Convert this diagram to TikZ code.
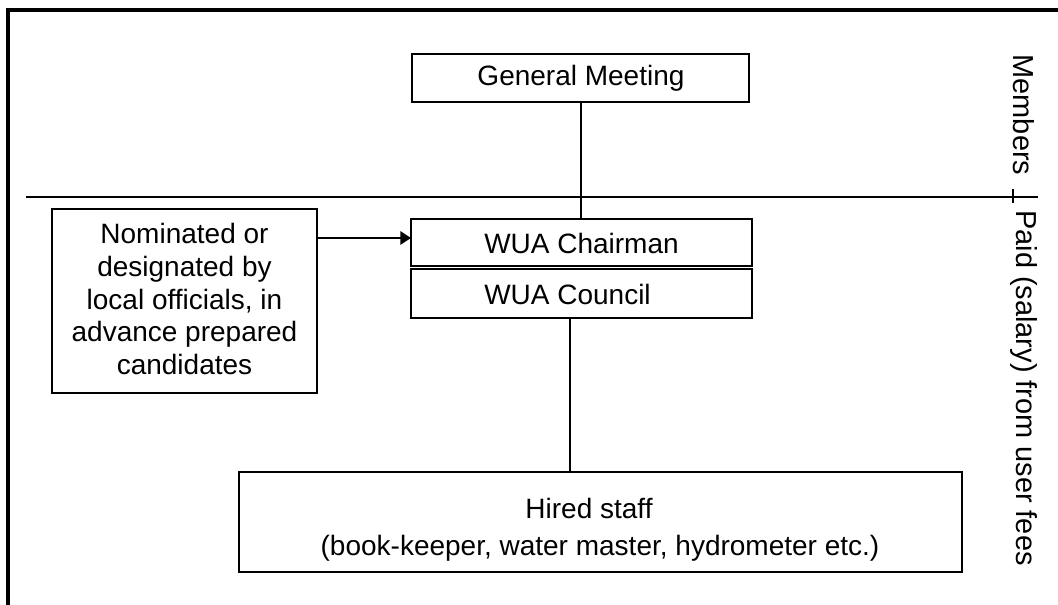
\documentclass[tikz,border=0pt]{standalone}
\usepackage{fontspec}
\setmainfont{Liberation Sans}
\usetikzlibrary{arrows.meta}
\begin{document}
\begin{tikzpicture}[x=0.75pt,y=-0.75pt,
  txt/.style={font=\fontsize{21}{24.5}\selectfont,inner sep=0pt},
  sidetxt/.style={font=\fontsize{21.7}{26}\selectfont,inner sep=0pt,rotate=-90},
  conn/.style={line width=1.5pt},
  frame/.style={line width=1.5pt}]
\useasboundingbox (0,0) rectangle (1058,605);
% outer frame
\draw[line width=3pt] (8,605) -- (8,10) -- (1058,10);
% separator
\draw[conn] (26,197) -- (1038,197);
\draw[conn] (1013,189) -- (1013,203);
% boxes
\draw[frame] (412,54) rectangle (749,102);
\node[txt] (gm) at (581,78) {General Meeting};
\coordinate (gmb) at (581,102);
\draw[frame] (411,219) rectangle (752,266);
\node[txt,anchor=west] (ch) at (484,243) {WUA Chairman};
\coordinate (cht) at (581,219);
\coordinate (chl) at (411,238);
\draw[frame] (411,269) rectangle (752,318);
\node[txt,anchor=west] (co) at (484,294) {WUA Council};
\coordinate (cob) at (570,318);
\draw[frame] (52,209) rectangle (317,393);
\node[txt,align=center] (nom) at (184.5,299) {Nominated or\\designated by\\local officials, in\\advance prepared\\candidates};
\coordinate (nomr) at (317,238);
\draw[frame] (239,472) rectangle (962,572);
\node[txt] (hs) at (589,508) {Hired staff};
\node[txt] (hs2) at (600,548) {(book-keeper, water master, hydrometer etc.)};
\coordinate (hst) at (570,472);
% connectors
\draw[conn] (gmb) -- (cht);
\draw[conn] (cob) -- (hst);
\draw[conn,-{Triangle[length=8pt,width=10pt]}] (nomr) -- (chl);
% side labels
\node[sidetxt] (mem) at (1024,115) {Members};
\node[sidetxt] (paid) at (1024,388) {Paid (salary) from user fees};
\end{tikzpicture}
\end{document}
